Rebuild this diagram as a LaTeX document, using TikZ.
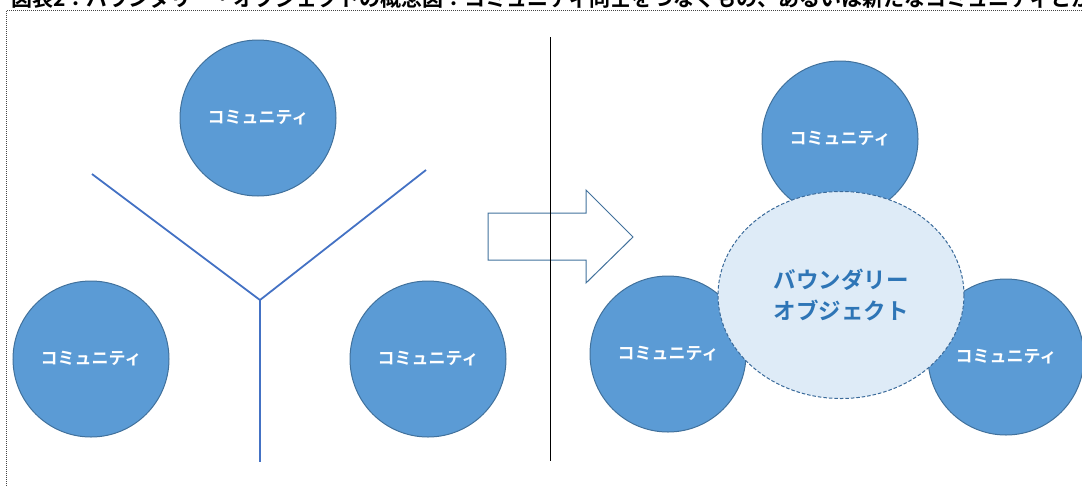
\documentclass[tikz,border=0pt]{standalone}
\usepackage{fontspec}
\newfontfamily\jpb{Noto Sans CJK JP Bold}
\usetikzlibrary{shapes.geometric}
\definecolor{commfill}{HTML}{5B9BD5}
\definecolor{commline}{HTML}{41719C}
\definecolor{yblue}{HTML}{4472C4}
\definecolor{bofill}{HTML}{DEEBF7}
\definecolor{boline}{HTML}{3A6A9A}
\definecolor{botext}{HTML}{2E75B6}
\definecolor{framegray}{HTML}{444444}
\begin{document}
\begin{tikzpicture}[x=1pt,y=-1pt,
  community/.style={circle, minimum size=156pt, inner sep=0pt,
    fill=commfill, draw=commline, line width=1pt, text=white,
    font=\jpb\fontsize{17}{17}\selectfont},
  boundary/.style={ellipse, minimum width=246pt, minimum height=207pt,
    inner sep=0pt, fill=bofill, draw=boline, line width=1pt,
    dash pattern=on 3.5pt off 2pt, text=botext, align=center,
    font=\jpb\fontsize{22.5}{31}\selectfont},
  yline/.style={draw=yblue, line width=1.8pt},
  divider/.style={draw=black, line width=1pt},
  blockarrow/.style={draw=commline, line width=1pt, line join=miter},
  frame/.style={draw=framegray, line width=1.6pt, dash pattern=on 1pt off 1pt}]
\useasboundingbox (0,0) rectangle (1082,485);
\clip (0,0) rectangle (1082,485);

% caption line, running off the top edge
\node[anchor=base west, inner sep=0pt, font=\jpb\fontsize{21}{21}\selectfont] (title) at (11,6.5)
  {図表2：バウンダリー・オブジェクトの概念図：コミュニティ同士をつなぐもの、あるいは新たなコミュニティとか};

% dotted frame
\draw[frame] (1100,10.5) -- (6.5,10.5) -- (6.5,500);

% left panel: three separated communities
\node[community] (cA) at (258,118) {コミュニティ};
\node[community] (cB) at (91,359) {コミュニティ};
\node[community] (cC) at (428,359) {コミュニティ};

\coordinate (yc) at (260,300);
\coordinate (yl) at (92,174);
\coordinate (yr) at (426,170);
\coordinate (yb) at (260,462);
\draw[yline] (yl) -- (yc) -- (yr);
\draw[yline] (yc) -- (yb);

% transition arrow
\draw[blockarrow] (488,213) -- (586,213) -- (586,190) -- (633,237)
  -- (586,283) -- (586,260) -- (488,260) -- cycle;

% divider
\coordinate (dtop) at (550,37);
\coordinate (dbot) at (550,461);
\draw[divider] (dtop) -- (dbot);

% right panel: communities joined by a boundary object
\node[community] (dA) at (840,139) {コミュニティ};
\node[community] (dB) at (668,354) {コミュニティ};
\node[community] (dC) at (1006,357) {コミュニティ};
\node[boundary] (bo) at (841,295) {バウンダリー\\オブジェクト};
\end{tikzpicture}
\end{document}
